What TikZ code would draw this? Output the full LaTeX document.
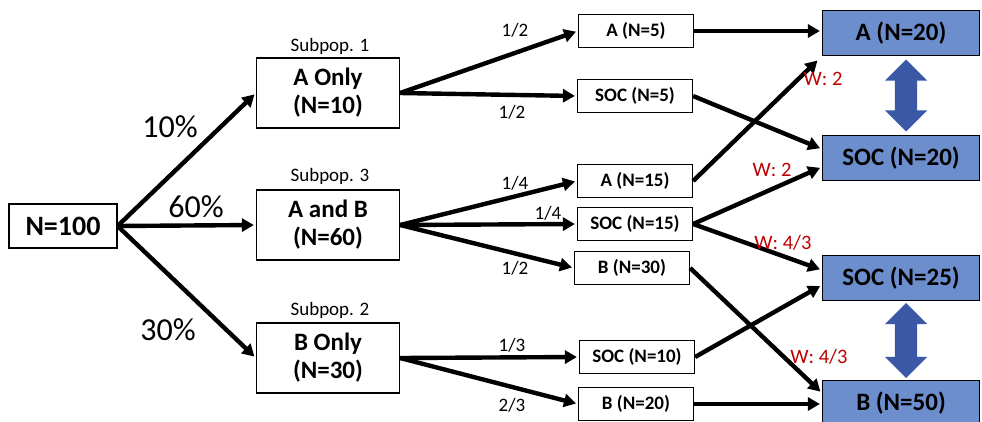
\documentclass[tikz,border=0pt]{standalone}
\usepackage{fontspec}
\setmainfont{Carlito}
\usetikzlibrary{arrows.meta,shapes.arrows,calc}
\definecolor{boxblue}{RGB}{108,142,204}
\definecolor{arrblue}{RGB}{58,88,166}
\definecolor{wred}{RGB}{192,0,0}

\begin{document}
\begin{tikzpicture}[x=1pt,y=-1pt,
  box/.style={draw,line width=1.2pt,align=center,inner sep=0pt,
    minimum width=143pt,minimum height=70pt,
    font=\fontsize{25}{28}\selectfont\bfseries},
  small/.style={draw,line width=1.2pt,inner sep=0pt,
    minimum width=115pt,minimum height=33pt,
    font=\fontsize{19}{22}\selectfont\bfseries},
  big/.style={draw,line width=1.2pt,fill=boxblue,inner sep=0pt,
    minimum width=157pt,minimum height=45pt,
    font=\fontsize{25}{28}\selectfont\bfseries},
  arr/.style={-{Triangle[length=12pt,width=13pt]},line width=4.4pt,shorten >=2pt},
  pct/.style={font=\fontsize{32}{34}\selectfont},
  frac/.style={font=\fontsize{19}{21}\selectfont},
  sub/.style={font=\fontsize{19}{21}\selectfont},
  wlab/.style={text=wred,font=\fontsize{20.5}{23}\selectfont},
  dbl/.style={double arrow,fill=arrblue,rotate=90,inner xsep=0pt,inner ysep=11pt,
    double arrow head extend=10pt}]
\useasboundingbox (0,0) rectangle (982,421);

% start and subpopulations
\node[draw,line width=1.2pt,inner sep=0pt,minimum width=108pt,minimum height=44pt,
  font=\fontsize{28}{30}\selectfont\bfseries] (all) at (63,226) {N=100};
\node[box] (aonly) at (328,93) {A Only\\(N=10)};
\node[box] (aandb) at (328,225) {A and B\\(N=60)};
\node[box] (bonly) at (328,358) {B Only\\(N=30)};
\node[sub] (s1) at (330,46) {Subpop. 1};
\node[sub] (s3) at (330,176) {Subpop. 3};
\node[sub] (s2) at (330,310) {Subpop. 2};

% randomised arms
\node[small] (a5) at (636,31) {A (N=5)};
\node[small] (soc5) at (635,96) {SOC (N=5)};
\node[small] (a15) at (635,181) {A (N=15)};
\node[small] (soc15) at (635,224) {SOC (N=15)};
\node[small] (b30) at (632,268) {B (N=30)};
\node[small] (soc10) at (637,357) {SOC (N=10)};
\node[small] (b20) at (636,404) {B (N=20)};

% pooled comparisons
\node[big] (bigA) at (901,33) {A (N=20)};
\node[big] (socA) at (901,158) {SOC (N=20)};
\node[big] (socB) at (901,278) {SOC (N=25)};
\node[big] (bigB) at (901,403) {B (N=50)};

\draw[arr] (all.east) -- (aonly.west);
\draw[arr] (all.east) -- (aandb.west);
\draw[arr] (all.east) -- (bonly.west);
\node[pct] (p1) at (170,127) {10\%};
\node[pct] (p2) at (196,207) {60\%};
\node[pct] (p3) at (168,330) {30\%};

\draw[arr] (aonly.east) -- (a5.west);
\draw[arr] (aonly.east) -- (soc5.west);
\draw[arr] (aandb.east) -- (a15.west);
\draw[arr] (aandb.east) -- (soc15.west);
\draw[arr] (aandb.east) -- (b30.west);
\draw[arr] (bonly.east) -- (soc10.west);
\draw[arr] (bonly.east) -- (b20.west);
\node[frac] (f1) at (515,30) {1/2};
\node[frac] (f2) at (512,112) {1/2};
\node[frac] (f3) at (515,183) {1/4};
\node[frac] (f4) at (548,213) {1/4};
\node[frac] (f5) at (515,268) {1/2};
\node[frac] (f6) at (512,345) {1/3};
\node[frac] (f7) at (512,405) {2/3};

\draw[arr] (a5.east) -- ([yshift=2pt]bigA.west);
\draw[arr] (a15.east) -- ([xshift=-3pt,yshift=-3pt]bigA.south west);
\draw[arr] (soc5.east) -- ([yshift=9pt]socA.west);
\draw[arr] (soc15.east) -- ([yshift=-9pt]socA.west);
\draw[arr] (soc15.east) -- ([yshift=8pt]socB.west);
\draw[arr] (soc10.east) -- ([yshift=-7pt]socB.west);
\draw[arr] (b30.east) -- ([yshift=10pt]bigB.west);
\draw[arr] (b20.east) -- ([yshift=-1pt]bigB.west);
\node[wlab] (w1) at (823,79) {W: 2};
\node[wlab] (w2) at (772,170) {W: 2};
\node[wlab] (w3) at (783,243) {W: 4/3};
\node[wlab] (w4) at (819,357) {W: 4/3};

\node[dbl,minimum height=72pt] (d1) at ($(bigA.south)!0.5!(socA.north)+(5,0)$) {};
\node[dbl,minimum height=75pt] (d2) at ($(socB.south)!0.5!(bigB.north)+(5,0)$) {};
\end{tikzpicture}
\end{document}
